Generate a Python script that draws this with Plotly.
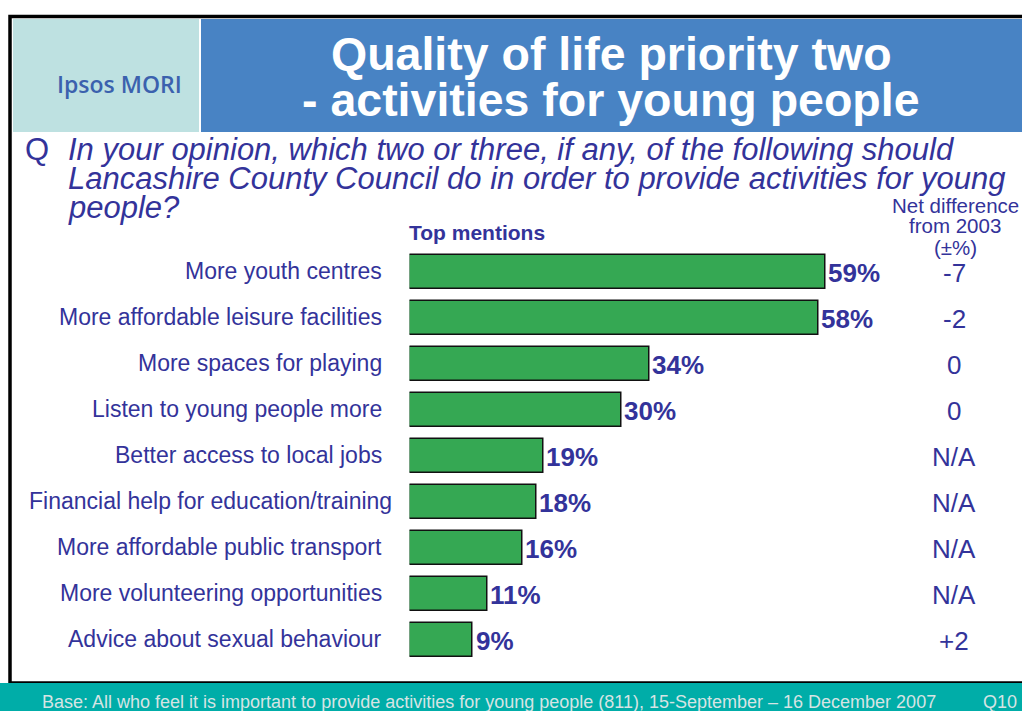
import plotly.graph_objects as go

W, H = 1022, 711

categories = [
    "More youth centres",
    "More affordable leisure facilities",
    "More spaces for playing",
    "Listen to young people more",
    "Better access to local jobs",
    "Financial help for education/training",
    "More affordable public transport",
    "More volunteering opportunities",
    "Advice about sexual behaviour",
]
values = [59, 58, 34, 30, 19, 18, 16, 11, 9]
net_diff = ["-7", "-2", "0", "0", "N/A", "N/A", "N/A", "N/A", "+2"]

title_lines = ["Quality of life priority two", "- activities for young people"]
question_lines = [
    "In your opinion, which two or three, if any, of the following should",
    "Lancashire County Council do in order to provide activities for young",
    "people?",
]
net_header = ["Net difference", "from 2003", "(±%)"]
footer_text = ("Base: All who feel it is important to provide activities for young people (811), "
               "15-September \u2013 16 December 2007")

NAVY = "#33339A"
GREEN = "#35A853"
FONT = "Liberation Sans, Arial, sans-serif"


def px(x):
    return x / W


def py(y):
    return 1 - y / H


x0_pix = 409.5
px_per_pct = 7.05
x_max = (W - x0_pix) / px_per_pct

fig = go.Figure()
fig.add_trace(go.Bar(
    y=categories, x=values, orientation="h", width=0.72,
    marker=dict(color=GREEN, line=dict(color="#111111", width=1.5)),
    hoverinfo="skip",
))

ann = []
# category labels (the longest label overflows its box slightly, as in the original)
for c in categories:
    overflow = 10 if c.startswith("Financial") else 0
    ann.append(dict(x=px(384), xref="paper", y=c, yref="y", text=c, showarrow=False,
                    xanchor="right", yanchor="middle", yshift=1, xshift=overflow,
                    font=dict(family=FONT, size=23, color=NAVY)))
# value labels
for c, v in zip(categories, values):
    ann.append(dict(x=v, xref="x", y=c, yref="y", text=f"<b>{v}%</b>", showarrow=False,
                    xanchor="left", yanchor="middle", xshift=1, yshift=-1,
                    font=dict(family=FONT, size=26, color=NAVY)))
# net difference values
for c, d in zip(categories, net_diff):
    ann.append(dict(x=px(954), xref="paper", y=c, yref="y", text=d, showarrow=False,
                    xanchor="center", yanchor="middle", yshift=-1,
                    font=dict(family=FONT, size=26, color=NAVY)))
# net header
for i, t in enumerate(net_header):
    ann.append(dict(x=px(955), xref="paper", y=py(205 + 21 * i), yref="paper", text=t,
                    showarrow=False, xanchor="center", yanchor="middle",
                    font=dict(family=FONT, size=20.5, color=NAVY)))
# top mentions
ann.append(dict(x=px(407), xref="paper", y=py(233), yref="paper", text="<b>Top mentions</b>",
                showarrow=False, xanchor="left", yanchor="middle",
                font=dict(family=FONT, size=21, color=NAVY)))
# question
ann.append(dict(x=px(23), xref="paper", y=py(150), yref="paper", text="Q",
                showarrow=False, xanchor="left", yanchor="middle",
                font=dict(family=FONT, size=31, color=NAVY)))
for i, t in enumerate(question_lines):
    ann.append(dict(x=px(66), xref="paper", y=py(150 + 28.5 * i), yref="paper", text=f"<i>{t}</i>",
                    showarrow=False, xanchor="left", yanchor="middle",
                    font=dict(family=FONT, size=31, color=NAVY)))
# title
for i, t in enumerate(title_lines):
    ann.append(dict(x=px(611), xref="paper", y=py(54 + 46 * i), yref="paper", text=f"<b>{t}</b>",
                    showarrow=False, xanchor="center", yanchor="middle",
                    font=dict(family=FONT, size=46.5, color="white")))
# logo text
ann.append(dict(x=px(119), xref="paper", y=py(84), yref="paper", text="Ipsos MORI",
                showarrow=False, xanchor="center", yanchor="middle",
                font=dict(family="Open Sans, sans-serif", size=23, color="#3B61AE", weight=600)))
# footer
ann.append(dict(x=px(40), xref="paper", y=py(702), yref="paper", text=footer_text,
                showarrow=False, xanchor="left", yanchor="middle",
                font=dict(family=FONT, size=18, color="#D6E4E4")))
ann.append(dict(x=px(1019), xref="paper", y=py(702), yref="paper", text="Q10",
                showarrow=False, xanchor="right", yanchor="middle",
                font=dict(family=FONT, size=18, color="#D6E4E4")))

shapes = [
    # header boxes
    dict(type="rect", xref="paper", yref="paper", x0=px(13), x1=px(199), y0=py(132), y1=py(19),
         fillcolor="#BEE1E1", line=dict(width=0), layer="below"),
    dict(type="rect", xref="paper", yref="paper", x0=px(201), x1=px(1022), y0=py(132), y1=py(19),
         fillcolor="#4883C4", line=dict(width=0), layer="below"),
    # frame
    dict(type="rect", xref="paper", yref="paper", x0=px(10), x1=px(1030), y0=py(683), y1=py(16.5),
         fillcolor="rgba(0,0,0,0)", line=dict(color="black", width=3.5), layer="below"),
    # footer
    dict(type="rect", xref="paper", yref="paper", x0=0, x1=1, y0=0, y1=py(683),
         fillcolor="#00ADA8", line=dict(width=0), layer="above"),
]

fig.update_layout(
    width=W, height=H, margin=dict(l=0, r=0, t=0, b=0),
    paper_bgcolor="white", plot_bgcolor="rgba(0,0,0,0)",
    showlegend=False, bargap=0,
    xaxis=dict(domain=[px(x0_pix), 1], range=[0, x_max], visible=False, fixedrange=True),
    yaxis=dict(domain=[py(663), py(249)], range=[8.5, -0.5], type="category",
               categoryorder="array", categoryarray=categories, visible=False, fixedrange=True),
    annotations=ann, shapes=shapes,
)

fig.write_html("out.html", config={"displayModeBar": False})
